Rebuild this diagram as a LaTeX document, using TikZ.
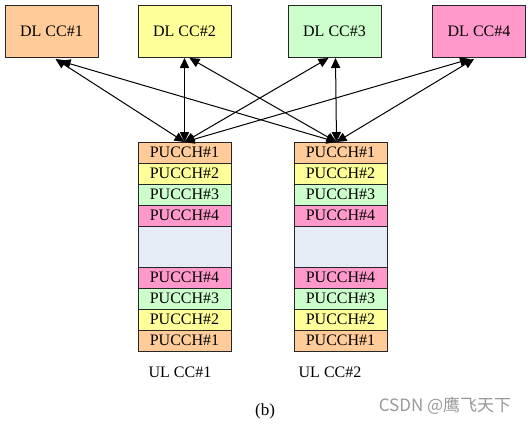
\documentclass[tikz,border=0pt]{standalone}
\usepackage{fontspec}
\setmainfont{Liberation Serif}
\newfontfamily\cjk{Noto Sans CJK SC}
\usetikzlibrary{arrows.meta}
\definecolor{ccone}{HTML}{FFCC99}
\definecolor{cctwo}{HTML}{FFFF99}
\definecolor{ccthree}{HTML}{CCFFCC}
\definecolor{ccfour}{HTML}{FF99CC}
\definecolor{gapblue}{HTML}{E6ECF6}
\begin{document}
\begin{tikzpicture}
  [x=0.5pt,y=-0.5pt,
   font=\fontsize{8pt}{9pt}\selectfont,
   dlbox/.style={rectangle,draw=black!85,line width=0.5pt,align=center,
                  outer sep=0,inner sep=0,minimum width=46.5pt,minimum height=26pt},
   slot/.style={rectangle,draw=black!85,line width=0.5pt,align=center,
                  outer sep=0,inner sep=0,minimum width=46.5pt,minimum height=10.5pt},
   gap/.style={slot,fill=gapblue,minimum height=20.5pt},
   link/.style={line width=0.5pt,{Triangle[length=5pt,width=4.6pt]}-{Triangle[length=5pt,width=4.6pt]}}]
  \useasboundingbox (0,0) rectangle (528,424);
  % downlink carriers
  \node[dlbox,fill=ccone] (dl1) at (51.5,31) {DL CC\#1};
  \node[dlbox,fill=cctwo] (dl2) at (184.5,31) {DL CC\#2};
  \node[dlbox,fill=ccthree] (dl3) at (334.5,31) {DL CC\#3};
  \node[dlbox,fill=ccfour] (dl4) at (479,31) {DL CC\#4};
  % uplink carrier 1
  \node[slot,fill=ccone] (a1) at (184.5,152.5) {PUCCH\#1};
  \node[slot,fill=cctwo] (a2) at (184.5,173.5) {PUCCH\#2};
  \node[slot,fill=ccthree] (a3) at (184.5,194.5) {PUCCH\#3};
  \node[slot,fill=ccfour] (a4) at (184.5,215.5) {PUCCH\#4};
  \node[gap] (agap) at (184.5,246.5) {};
  \node[slot,fill=ccfour] (a5) at (184.5,277.5) {PUCCH\#4};
  \node[slot,fill=ccthree] (a6) at (184.5,298.5) {PUCCH\#3};
  \node[slot,fill=cctwo] (a7) at (184.5,319.5) {PUCCH\#2};
  \node[slot,fill=ccone] (a8) at (184.5,340.5) {PUCCH\#1};
  % uplink carrier 2
  \node[slot,fill=ccone] (b1) at (340.5,152.5) {PUCCH\#1};
  \node[slot,fill=cctwo] (b2) at (340.5,173.5) {PUCCH\#2};
  \node[slot,fill=ccthree] (b3) at (340.5,194.5) {PUCCH\#3};
  \node[slot,fill=ccfour] (b4) at (340.5,215.5) {PUCCH\#4};
  \node[gap] (bgap) at (340.5,246.5) {};
  \node[slot,fill=ccfour] (b5) at (340.5,277.5) {PUCCH\#4};
  \node[slot,fill=ccthree] (b6) at (340.5,298.5) {PUCCH\#3};
  \node[slot,fill=cctwo] (b7) at (340.5,319.5) {PUCCH\#2};
  \node[slot,fill=ccone] (b8) at (340.5,340.5) {PUCCH\#1};
  \node (ul1) at (180,372) {UL CC\#1};
  \node (ul2) at (330,372) {UL CC\#2};
  \node (caption) at (265,411) {\fontsize{8.5pt}{10pt}\selectfont(b)};
  \node[text=black!40] (mark) at (445,406) {\cjk\fontsize{8.5pt}{10pt}\selectfont CSDN @鹰飞天下};
  % links
  \draw[link] (a1.north) to ([xshift=2pt,yshift=-1pt]dl1.south);
  \draw[link] (a1.north) to ([yshift=-0.5pt]dl2.south);
  \draw[link] (a1.north) to ([xshift=-3pt,yshift=-0.5pt]dl3.south);
  \draw[link] (a1.north) to ([xshift=-4.5pt,yshift=-1pt]dl4.south);
  \draw[link] ([xshift=-2pt]b1.north) to ([xshift=4.5pt,yshift=-2pt]dl1.south);
  \draw[link] ([xshift=-2pt]b1.north) to ([xshift=2.5pt,yshift=-0.5pt]dl2.south);
  \draw[link] ([xshift=-2pt]b1.north) to ([xshift=0.5pt,yshift=-0.5pt]dl3.south);
  \draw[link] ([xshift=-2pt]b1.north) to ([xshift=-2.5pt,yshift=-1pt]dl4.south);
\end{tikzpicture}
\end{document}
